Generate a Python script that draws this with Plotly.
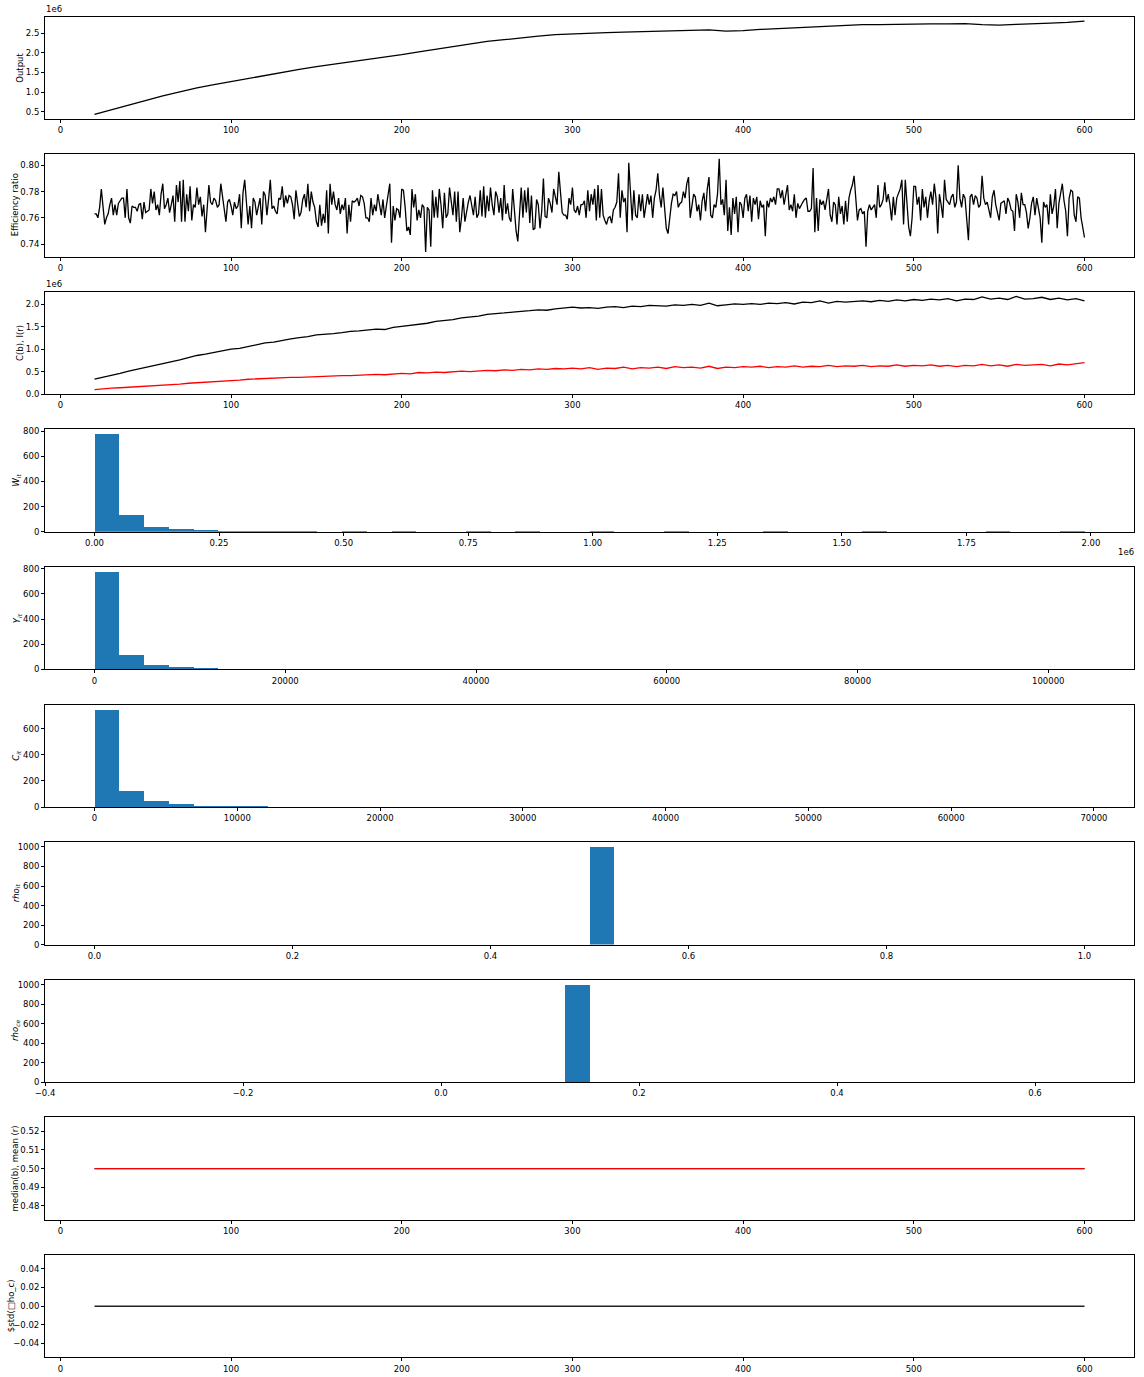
import numpy as np
import plotly.graph_objects as go

W, H = 1144, 1377

# ---------------- data ----------------
efficiency = [
    0.763,0.763,0.760,0.768,0.782,0.770,0.755,0.760,0.763,0.770,0.775,0.762,0.770,0.762,0.771,0.773,0.775,0.775,0.760,0.782,
    0.760,0.756,0.769,0.768,0.768,0.765,0.770,0.771,0.759,0.772,0.764,0.765,0.766,0.782,0.771,0.780,0.766,0.770,0.762,0.778,
    0.786,0.767,0.770,0.775,0.764,0.770,0.777,0.757,0.785,0.772,0.788,0.757,0.789,0.757,0.778,0.765,0.784,0.758,0.770,0.768,
    0.783,0.770,0.776,0.761,0.770,0.749,0.766,0.785,0.772,0.770,0.775,0.773,0.768,0.770,0.786,0.777,0.768,0.757,0.772,0.774,
    0.769,0.762,0.772,0.767,0.769,0.778,0.752,0.779,0.789,0.773,0.755,0.769,0.752,0.775,0.772,0.762,0.770,0.775,0.755,0.780,
    0.777,0.762,0.774,0.789,0.767,0.769,0.765,0.763,0.775,0.774,0.784,0.768,0.777,0.771,0.777,0.776,0.770,0.759,0.781,0.772,
    0.761,0.764,0.774,0.778,0.768,0.786,0.765,0.780,0.772,0.768,0.757,0.753,0.770,0.754,0.763,0.756,0.781,0.748,0.786,0.770,
    0.780,0.770,0.766,0.775,0.763,0.770,0.766,0.775,0.748,0.770,0.757,0.773,0.772,0.773,0.775,0.769,0.777,0.776,0.771,0.760,
    0.760,0.757,0.775,0.762,0.770,0.765,0.778,0.770,0.762,0.774,0.760,0.769,0.778,0.786,0.741,0.769,0.758,0.767,0.766,0.760,
    0.782,0.781,0.768,0.750,0.753,0.747,0.782,0.768,0.778,0.758,0.766,0.760,0.770,0.768,0.734,0.768,0.766,0.738,0.781,0.760,
    0.776,0.760,0.782,0.770,0.752,0.779,0.760,0.763,0.783,0.772,0.762,0.780,0.757,0.780,0.749,0.760,0.775,0.757,0.765,0.772,
    0.777,0.770,0.762,0.776,0.760,0.763,0.781,0.761,0.784,0.760,0.777,0.765,0.783,0.770,0.762,0.780,0.776,0.764,0.775,0.758,
    0.785,0.763,0.771,0.760,0.757,0.782,0.764,0.750,0.742,0.760,0.783,0.760,0.781,0.764,0.783,0.756,0.777,0.751,0.752,0.774,
    0.770,0.752,0.765,0.790,0.761,0.760,0.775,0.771,0.764,0.782,0.775,0.770,0.795,0.782,0.764,0.762,0.762,0.759,0.775,0.770,
    0.783,0.766,0.764,0.769,0.762,0.770,0.770,0.773,0.760,0.781,0.765,0.778,0.770,0.782,0.758,0.785,0.760,0.782,0.762,0.758,
    0.755,0.760,0.761,0.756,0.766,0.768,0.772,0.794,0.760,0.781,0.772,0.775,0.749,0.802,0.775,0.758,0.781,0.762,0.760,0.778,
    0.765,0.778,0.760,0.770,0.778,0.770,0.777,0.760,0.775,0.781,0.794,0.777,0.768,0.783,0.770,0.752,0.748,0.760,0.771,0.778,
    0.777,0.780,0.768,0.771,0.772,0.780,0.775,0.786,0.791,0.760,0.770,0.778,0.776,0.765,0.770,0.758,0.773,0.779,0.765,0.782,
    0.791,0.762,0.760,0.770,0.768,0.778,0.805,0.770,0.774,0.762,0.789,0.750,0.768,0.747,0.775,0.763,0.776,0.749,0.772,0.770,
    0.760,0.775,0.778,0.765,0.777,0.757,0.775,0.770,0.776,0.759,0.773,0.768,0.770,0.746,0.773,0.768,0.775,0.772,0.776,0.770,
    0.782,0.782,0.775,0.781,0.770,0.777,0.785,0.766,0.770,0.765,0.778,0.760,0.771,0.767,0.770,0.772,0.774,0.775,0.765,0.765,
    0.767,0.798,0.749,0.775,0.750,0.774,0.770,0.773,0.766,0.776,0.782,0.762,0.757,0.772,0.770,0.755,0.776,0.763,0.769,0.755,
    0.773,0.757,0.775,0.781,0.785,0.792,0.776,0.758,0.766,0.767,0.763,0.765,0.738,0.765,0.770,0.766,0.768,0.770,0.760,0.785,
    0.768,0.770,0.774,0.787,0.772,0.778,0.770,0.758,0.776,0.762,0.775,0.778,0.782,0.789,0.755,0.789,0.770,0.753,0.746,0.760,
    0.784,0.784,0.770,0.776,0.758,0.782,0.768,0.776,0.760,0.773,0.780,0.770,0.786,0.775,0.748,0.778,0.770,0.760,0.789,0.774,
    0.772,0.770,0.776,0.778,0.768,0.772,0.800,0.775,0.768,0.778,0.775,0.758,0.743,0.776,0.778,0.770,0.777,0.775,0.768,0.770,
    0.792,0.775,0.770,0.772,0.767,0.760,0.776,0.781,0.770,0.765,0.758,0.771,0.772,0.773,0.763,0.775,0.772,0.766,0.765,0.750,
    0.778,0.772,0.760,0.779,0.770,0.770,0.764,0.752,0.760,0.771,0.776,0.762,0.775,0.768,0.760,0.741,0.772,0.768,0.770,0.755,
    0.778,0.763,0.769,0.782,0.752,0.771,0.778,0.786,0.773,0.765,0.746,0.775,0.781,0.780,0.762,0.757,0.776,0.775,0.760,0.752,
    0.745,
]
t_eff = 20 + np.arange(len(efficiency))

output = [0.44e6, 0.56e6, 0.68e6, 0.80e6, 0.91e6, 1.01e6, 1.11e6, 1.19e6, 1.27e6, 1.35e6,
          1.43e6, 1.51e6, 1.58e6, 1.65e6, 1.71e6, 1.77e6, 1.83e6, 1.88e6, 1.95e6, 2.02e6,
          2.09e6, 2.16e6, 2.23e6, 2.29e6, 2.33e6, 2.38e6, 2.42e6, 2.46e6, 2.48e6, 2.49e6,
          2.51e6, 2.52e6, 2.53e6, 2.54e6, 2.55e6, 2.57e6, 2.58e6, 2.55e6, 2.56e6, 2.59e6,
          2.61e6, 2.63e6, 2.65e6, 2.68e6, 2.70e6, 2.71e6, 2.71e6, 2.72e6, 2.72e6, 2.73e6,
          2.73e6, 2.74e6, 2.71e6, 2.70e6, 2.72e6, 2.73e6, 2.75e6, 2.77e6, 2.80e6]
t_out = 20 + 10 * np.arange(len(output))

cb = [0.33,0.37,0.42,0.46,0.51,0.55,0.60,0.64,0.68,0.72,0.76,0.81,0.86,0.89,0.93,0.96,1.00,1.02,1.06,1.10,
      1.14,1.16,1.20,1.23,1.26,1.28,1.32,1.33,1.35,1.37,1.40,1.41,1.43,1.45,1.44,1.49,1.51,1.53,1.56,1.58,
      1.62,1.64,1.66,1.70,1.72,1.74,1.78,1.79,1.81,1.83,1.84,1.86,1.88,1.87,1.90,1.92,1.94,1.92,1.93,1.91,
      1.94,1.95,1.93,1.96,1.95,1.98,1.97,1.96,1.99,1.98,2.00,1.98,2.03,1.97,1.99,2.01,2.00,2.02,2.00,2.03,
      2.02,2.04,2.01,2.05,2.04,2.08,2.03,2.07,2.05,2.06,2.08,2.06,2.09,2.07,2.10,2.08,2.11,2.09,2.12,2.10,
      2.13,2.08,2.12,2.11,2.17,2.12,2.14,2.11,2.18,2.12,2.13,2.16,2.11,2.14,2.10,2.13,2.08]
ir = [0.10,0.12,0.13,0.14,0.15,0.17,0.18,0.19,0.20,0.21,0.22,0.24,0.25,0.26,0.28,0.29,0.30,0.31,0.33,0.34,
      0.34,0.35,0.36,0.37,0.37,0.38,0.39,0.39,0.40,0.41,0.41,0.42,0.42,0.44,0.43,0.45,0.46,0.45,0.48,0.47,
      0.49,0.48,0.50,0.51,0.50,0.52,0.53,0.52,0.54,0.53,0.55,0.54,0.56,0.55,0.57,0.56,0.58,0.56,0.59,0.55,
      0.58,0.57,0.60,0.56,0.59,0.58,0.60,0.57,0.61,0.59,0.60,0.58,0.62,0.57,0.60,0.59,0.61,0.60,0.62,0.59,
      0.61,0.60,0.63,0.60,0.62,0.61,0.64,0.61,0.63,0.62,0.64,0.61,0.63,0.62,0.65,0.62,0.64,0.63,0.65,0.62,
      0.64,0.61,0.64,0.63,0.66,0.63,0.65,0.62,0.66,0.64,0.65,0.66,0.63,0.67,0.65,0.67,0.70]
cb = [v * 1e6 for v in cb]
ir = [v * 1e6 for v in ir]
t5 = 20 + 5 * np.arange(len(cb))

# histograms (40 bins each)
w_lo, w_hi = 0.0, 1.987e6
w_counts = [776,131,37,21,12,1,1,1,1,0,1,0,1,0,0,1,0,1,0,0,1,0,0,1,0,0,0,1,0,0,0,1,0,0,0,0,1,0,0,1]
y_lo, y_hi = 0.0, 103800.0
y_counts = [776,119,32,16,8,2,2,1,1,1,1,1,1,0,1,1,0,1,0,1,0,1,0,0,1,0,1,0,0,1,0,1,0,0,1,0,0,0,0,1]
c_lo, c_hi = 0.0, 69340.0
c_counts = [747,129,53,30,13,5,5,0,3,3,3,0,1,0,1,0,0,1,0,0,1,0,0,0,1,0,0,1,0,0,0,0,1,0,0,0,0,0,0,1]
rho_it_value = 0.5
rho_ce_value = 0.15
n_agents = 1000

median_b = 0.5
mean_r = 0.5
std_rho = 0.0

# ---------------- figure ----------------
fig = go.Figure()

def ydom(i):
    top = 16.5 + 137.6 * i
    bot = top + 102.5
    return [1 - bot / H, 1 - top / H], (top, bot)

XD = [45 / W, 1134 / W]
FONT = dict(family="DejaVu Sans", size=8.5, color="black")
common = dict(showline=True, linecolor="black", linewidth=1, mirror=True,
              ticks="outside", ticklen=3, tickwidth=1, tickcolor="black",
              showgrid=False, zeroline=False, tickfont=FONT, automargin=False)

def add_axes(i, xr, yr, xt, xtt, yt, ytt):
    n = "" if i == 0 else str(i + 1)
    dom, _ = ydom(i)
    fig.layout["xaxis" + n] = dict(domain=XD, range=xr, anchor="y" + n,
                                   tickvals=xt, ticktext=xtt, **common)
    fig.layout["yaxis" + n] = dict(domain=dom, range=yr, anchor="x" + n,
                                   tickvals=yt, ticktext=ytt, **common)
    return "x" + n, "y" + n

def marg(lo, hi):
    s = hi - lo
    return [lo - 0.05 * s, hi + 0.05 * s]

line_x = marg(20, 600)
lt = [0, 100, 200, 300, 400, 500, 600]
ltt = [str(v) for v in lt]
annotations = []

def ylabel(i, text, xpx):
    _, (top, bot) = ydom(i)
    annotations.append(dict(x=xpx / W, y=1 - (top + bot) / 2 / H, xref="paper", yref="paper",
                            text=text, textangle=-90, showarrow=False, font=FONT,
                            xanchor="center", yanchor="middle"))

def offset_text(i, text, where):
    _, (top, bot) = ydom(i)
    if where == "top":
        annotations.append(dict(x=44 / W, y=1 - (top - 0.5) / H, xref="paper", yref="paper",
                                text=text, showarrow=False, font=FONT, xanchor="left", yanchor="bottom"))
    else:
        annotations.append(dict(x=1136 / W, y=1 - (bot + 13) / H, xref="paper", yref="paper",
                                text=text, showarrow=False, font=FONT, xanchor="right", yanchor="top"))

LW = 1.3

# 1 Output
yr = marg(min(output), max(output))
xa, ya = add_axes(0, line_x, yr, lt, ltt, [0.5e6, 1.0e6, 1.5e6, 2.0e6, 2.5e6],
                  ["0.5", "1.0", "1.5", "2.0", "2.5"])
fig.add_trace(go.Scatter(x=t_out, y=output, mode="lines", line=dict(color="black", width=LW),
                         xaxis=xa, yaxis=ya))
ylabel(0, "Output", 20)
offset_text(0, "1e6", "top")

# 2 Efficiency
yr = marg(min(efficiency), max(efficiency))
xa, ya = add_axes(1, line_x, yr, lt, ltt, [0.74, 0.76, 0.78, 0.80], ["0.74", "0.76", "0.78", "0.80"])
fig.add_trace(go.Scatter(x=t_eff, y=efficiency, mode="lines", line=dict(color="black", width=LW),
                         xaxis=xa, yaxis=ya))
ylabel(1, "Efficiency ratio", 15)

# 3 C(b), I(r)
yr = marg(min(ir), max(cb))
xa, ya = add_axes(2, line_x, yr, lt, ltt, [0, 0.5e6, 1.0e6, 1.5e6, 2.0e6],
                  ["0.0", "0.5", "1.0", "1.5", "2.0"])
fig.add_trace(go.Scatter(x=t5, y=cb, mode="lines", line=dict(color="black", width=LW),
                         xaxis=xa, yaxis=ya))
fig.add_trace(go.Scatter(x=t5, y=ir, mode="lines", line=dict(color="red", width=LW),
                         xaxis=xa, yaxis=ya))
ylabel(2, "C(b), I(r)", 20)
offset_text(2, "1e6", "top")

def hist(i, lo, hi, counts, xt, xtt, yt, label):
    edges = np.linspace(lo, hi, len(counts) + 1)
    centers = (edges[:-1] + edges[1:]) / 2
    width = edges[1] - edges[0]
    xa, ya = add_axes(i, marg(lo, hi), [0, max(counts) * 1.05], xt, xtt, yt, [str(v) for v in yt])
    fig.add_trace(go.Bar(x=centers, y=counts, width=width, marker=dict(color="#1f77b4", line=dict(width=0)),
                         xaxis=xa, yaxis=ya))
    ylabel(i, label, 17)

wt = [0, 0.25e6, 0.5e6, 0.75e6, 1.0e6, 1.25e6, 1.5e6, 1.75e6, 2.0e6]
hist(3, w_lo, w_hi, w_counts, wt, ["0.00", "0.25", "0.50", "0.75", "1.00", "1.25", "1.50", "1.75", "2.00"],
     [0, 200, 400, 600, 800], "<i>W</i><sub><i>it</i></sub>")
offset_text(3, "1e6", "bottom")
yt_ = [0, 20000, 40000, 60000, 80000, 100000]
hist(4, y_lo, y_hi, y_counts, yt_, [str(v) for v in yt_], [0, 200, 400, 600, 800],
     "<i>Y</i><sub><i>it</i></sub>")
ct = [0, 10000, 20000, 30000, 40000, 50000, 60000, 70000]
hist(5, c_lo, c_hi, c_counts, ct, [str(v) for v in ct], [0, 200, 400, 600],
     "<i>C</i><sub><i>it</i></sub>")

def const_hist(i, value, xt, xtt, label):
    lo, hi = value - 0.5, value + 0.5
    edges = np.linspace(lo, hi, 41)
    counts = np.histogram([value] * n_agents, bins=edges)[0]
    centers = (edges[:-1] + edges[1:]) / 2
    width = edges[1] - edges[0]
    xa, ya = add_axes(i, marg(lo, hi), [0, counts.max() * 1.05], xt, xtt,
                      [0, 200, 400, 600, 800, 1000], ["0", "200", "400", "600", "800", "1000"])
    fig.add_trace(go.Bar(x=centers, y=counts, width=width, marker=dict(color="#1f77b4", line=dict(width=0)),
                         xaxis=xa, yaxis=ya))
    ylabel(i, label, 16)

const_hist(6, rho_it_value, [0, 0.2, 0.4, 0.6, 0.8, 1.0], ["0.0", "0.2", "0.4", "0.6", "0.8", "1.0"],
           "<i>rho</i><sub><i>it</i></sub>")
const_hist(7, rho_ce_value, [-0.4, -0.2, 0.0, 0.2, 0.4, 0.6],
           ["\u22120.4", "\u22120.2", "0.0", "0.2", "0.4", "0.6"], "<i>rho</i><sub><i>ce</i></sub>")

# 9 median / mean
t_all = np.arange(20, 601)
xa, ya = add_axes(8, line_x, [0.4725, 0.5275], lt, ltt, [0.48, 0.49, 0.50, 0.51, 0.52],
                  ["0.48", "0.49", "0.50", "0.51", "0.52"])
fig.add_trace(go.Scatter(x=t_all, y=[median_b] * len(t_all), mode="lines",
                         line=dict(color="black", width=LW), xaxis=xa, yaxis=ya))
fig.add_trace(go.Scatter(x=t_all, y=[mean_r] * len(t_all), mode="lines",
                         line=dict(color="red", width=1.0), xaxis=xa, yaxis=ya))
ylabel(8, "median(b), mean (r)", 15)

# 10 std
xa, ya = add_axes(9, line_x, [-0.055, 0.055], lt, ltt, [-0.04, -0.02, 0.0, 0.02, 0.04],
                  ["\u22120.04", "\u22120.02", "0.00", "0.02", "0.04"])
fig.add_trace(go.Scatter(x=t_all, y=[std_rho] * len(t_all), mode="lines",
                         line=dict(color="#222222", width=1.5), xaxis=xa, yaxis=ya))
ylabel(9, "$std(\u25a1ho_c)", 11)

fig.update_layout(width=W, height=H, margin=dict(l=0, r=0, t=0, b=0), showlegend=False,
                  paper_bgcolor="white", plot_bgcolor="white", annotations=annotations,
                  font=FONT, bargap=0)
fig.write_html("out.html")
